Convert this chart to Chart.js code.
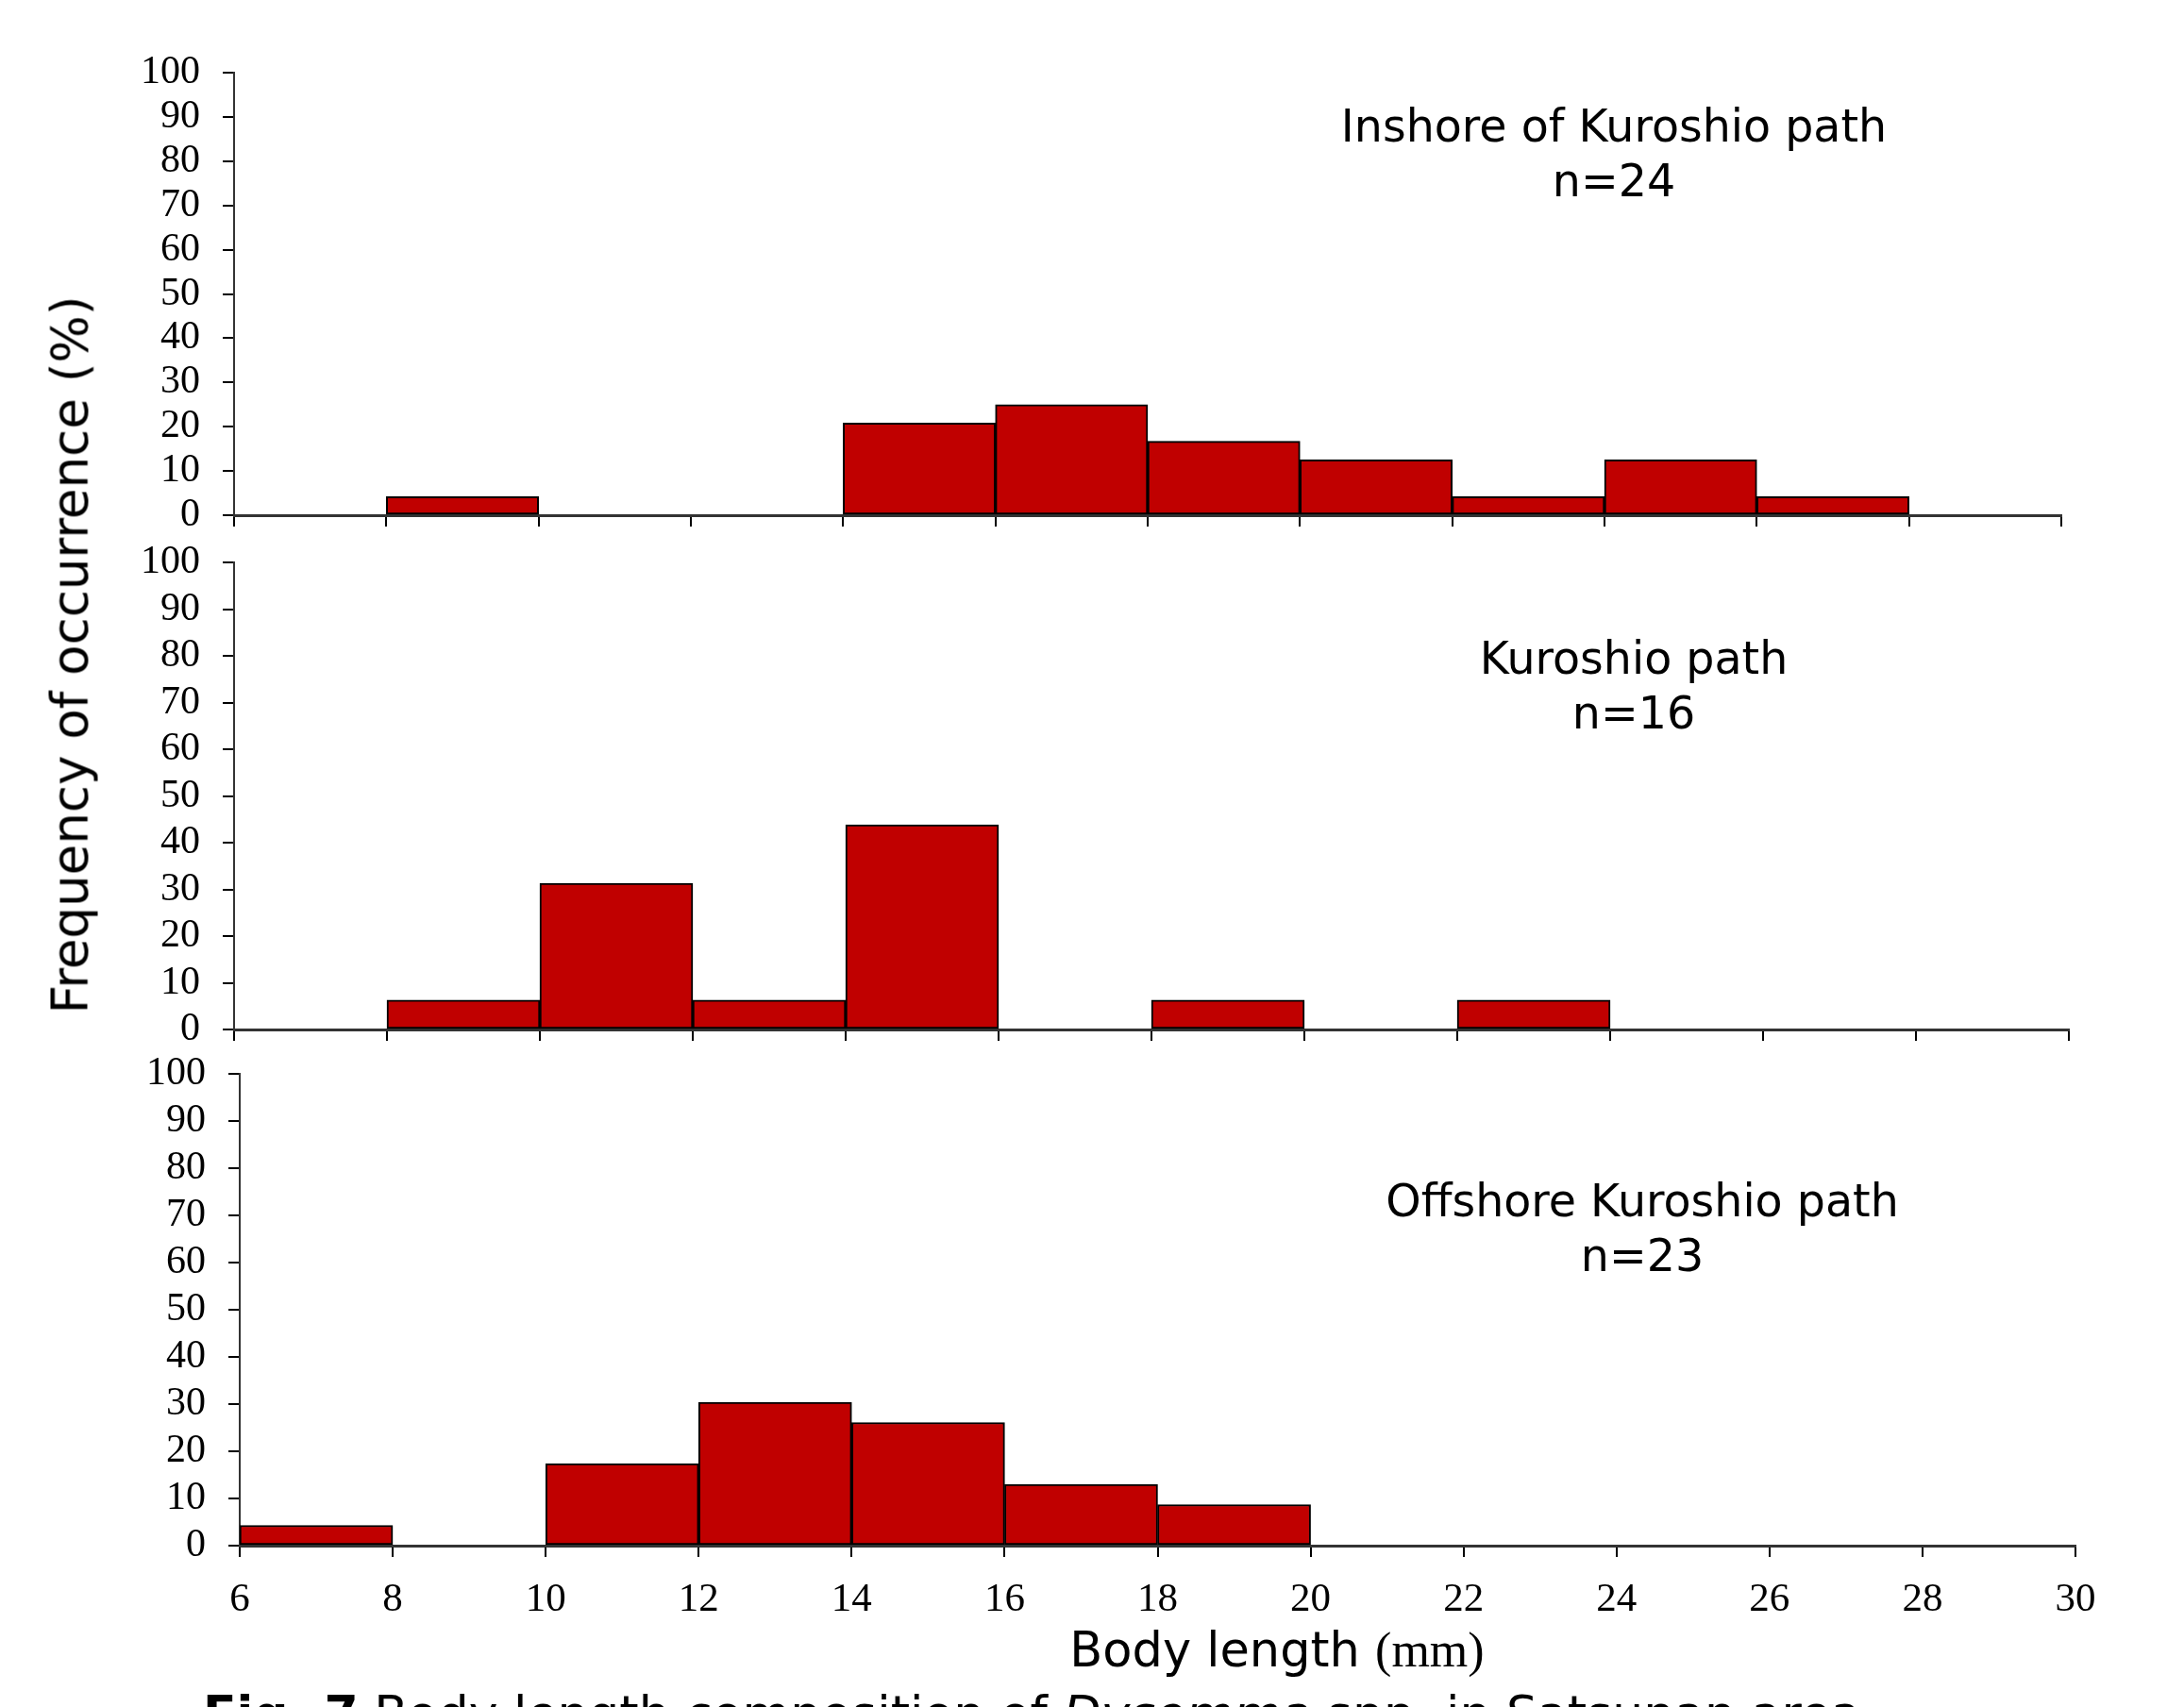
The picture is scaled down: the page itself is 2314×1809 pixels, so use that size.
<!DOCTYPE html>
<html>
<head>
<meta charset="utf-8">
<script src="https://cdn.jsdelivr.net/npm/chart.js@4.4.1/dist/chart.umd.min.js"></script>
<style>
  body { margin: 0; background: #fff; }
  #page { position: relative; width: 2314px; height: 1809px; overflow: hidden; background: #fff; }
  canvas { position: absolute; left: 0; top: 0; }
  .lbl { position: absolute; transform: translate(-50%, -50%); white-space: nowrap; text-align: center;
         font-family: "DejaVu Sans", Verdana, sans-serif; color: #000; }
</style>
</head>
<body>
<div id="page">
  <canvas id="inshoreChart" width="2314" height="1809"></canvas>
  <canvas id="kuroshioChart" width="2314" height="1809"></canvas>
  <canvas id="offshoreChart" width="2314" height="1809"></canvas>

  <div class="lbl" style="left:1710px; top:163px; font-size:47.5px; line-height:58px;">Inshore of Kuroshio path<br>n=24</div>
  <div class="lbl" style="left:1731px; top:727px; font-size:47.5px; line-height:58px;">Kuroshio path<br>n=16</div>
  <div class="lbl" style="left:1740px; top:1302px; font-size:47.5px; line-height:58px;">Offshore Kuroshio path<br>n=23</div>

  <div class="lbl" style="left:74px; top:694px; font-size:53px; transform: translate(-50%, -50%) rotate(-90deg);">Frequency of occurrence (%)</div>
  <div class="lbl" style="left:1353px; top:1748px; font-size:51px;">Body length <span style="font-family:'Liberation Serif', serif; font-size:52px;">(mm)</span></div>
  <div style="position:absolute; left:215px; top:1790px; font-family:'DejaVu Sans', sans-serif; font-size:52px; line-height:1; white-space:nowrap;"><b>Fig. 7</b> Body length composition of <i>Dysomma</i> spp. in Satsunan area</div>
</div>

<script>
// histogram bins (mm), lower edge of each 2 mm class
const binStarts = [6, 8, 10, 12, 14, 16, 18, 20, 22, 24, 26, 28];
const binWidth = 2;

// frequency of occurrence (%)
const inshoreValues  = [0, 4.2, 0, 0, 20.8, 25.0, 16.7, 12.5, 4.2, 12.5, 4.2, 0];
const kuroshioValues = [0, 6.3, 31.3, 6.3, 43.8, 0, 6.3, 0, 6.3, 0, 0, 0];
const offshoreValues = [4.3, 0, 17.4, 30.4, 26.1, 13.0, 8.7, 0, 0, 0, 0, 0];

// axis ranges / ticks
const xMin = 6, xMax = 30, xStep = 2;
const yMin = 0, yMax = 100, yStep = 10;

const PAGE_W = 2314, PAGE_H = 1809;

// plot areas of the three panels, in page pixels
const panels = [
    { id: 'inshoreChart',  values: inshoreValues,  showX: false, area: { left: 248, right: 2184, top: 77,   bottom: 546 } },
    { id: 'kuroshioChart', values: kuroshioValues, showX: false, area: { left: 248, right: 2192, top: 596,  bottom: 1091 } },
    { id: 'offshoreChart', values: offshoreValues, showX: true,  area: { left: 254, right: 2199, top: 1138, bottom: 1638 } }
];

const serif = "'Liberation Serif', 'Times New Roman', serif";

panels.forEach(p => {
    const ctx = document.getElementById(p.id).getContext('2d');
    new Chart(ctx, {
        type: 'bar',
        data: {
            datasets: [{
                data: binStarts.map((b, i) => ({ x: b + binWidth / 2, y: p.values[i] })),
                backgroundColor: '#c00000',
                borderColor: '#000',
                borderWidth: 2,
                borderSkipped: false,
                barPercentage: 1,
                categoryPercentage: 1
            }]
        },
        options: {
            responsive: false,
            animation: false,
            events: [],
            layout: { padding: { top: p.area.top, right: PAGE_W - p.area.right, bottom: 0, left: 0 } },
            plugins: { legend: { display: false }, tooltip: { enabled: false } },
            scales: {
                x: {
                    type: 'linear',
                    offset: false,
                    min: xMin,
                    max: xMax,
                    ticks: { stepSize: xStep, autoSkip: false, maxRotation: 0, display: p.showX, color: '#000', padding: 20,
                             font: { family: serif, size: 43 } },
                    grid: { offset: false, drawOnChartArea: false, tickLength: 12, color: '#000', lineWidth: 2 },
                    border: { color: '#333', width: 3 },
                    afterFit: s => { s.height = PAGE_H - p.area.bottom; }
                },
                y: {
                    min: yMin,
                    max: yMax,
                    ticks: { stepSize: yStep, autoSkip: false, color: '#000', padding: 24,
                             font: { family: serif, size: 42 } },
                    grid: { drawOnChartArea: false, tickLength: 12, color: '#000', lineWidth: 2 },
                    border: { color: '#333', width: 2 },
                    afterFit: s => { s.width = p.area.left; }
                }
            }
        }
    });
});
</script>
</body>
</html>
